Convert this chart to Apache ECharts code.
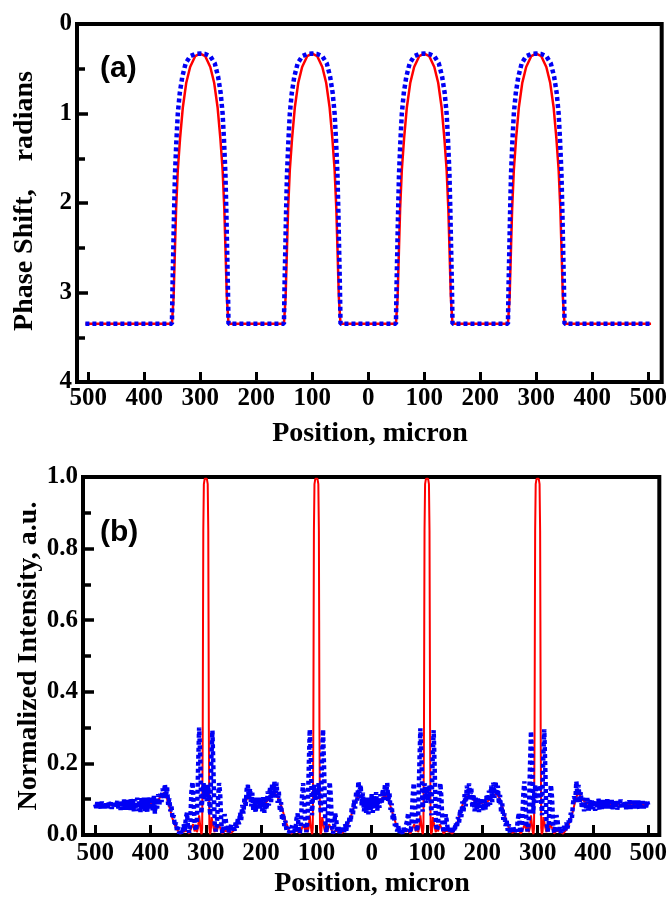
<!DOCTYPE html>
<html>
<head>
<meta charset="utf-8">
<script src="https://cdn.jsdelivr.net/npm/echarts@6/dist/echarts.min.js"></script>
<style>
html,body{margin:0;padding:0;background:#fff;}
#chart{width:670px;height:902px;}
</style>
</head>
<body>
<div id="chart"></div>
<script>
// ---------- tick labels ----------
const xTicks = [-500,-400,-300,-200,-100,0,100,200,300,400,500];

// ---------- (a) phase shift, [position (micron), phase (rad)] ----------
const phaseRed = [
[-505,3.35],
[-350.5,3.35],[-349.5,3.25],[-347.5,3.05],[-345,2.49],[-343,2.06],[-340,1.63],[-336,1.28],[-331,0.93],[-325,0.66],[-318,0.48],[-309,0.36],[-300,0.33],[-291,0.36],[-282,0.48],[-275,0.66],[-269,0.93],[-264,1.28],[-260,1.63],[-257,2.06],[-255,2.49],[-252.5,3.05],[-250.5,3.25],[-249.5,3.35],
[-150.5,3.35],[-149.5,3.25],[-147.5,3.05],[-145,2.49],[-143,2.06],[-140,1.63],[-136,1.28],[-131,0.93],[-125,0.66],[-118,0.48],[-109,0.36],[-100,0.33],[-91,0.36],[-82,0.48],[-75,0.66],[-69,0.93],[-64,1.28],[-60,1.63],[-57,2.06],[-55,2.49],[-52.5,3.05],[-50.5,3.25],[-49.5,3.35],
[49.5,3.35],[50.5,3.25],[52.5,3.05],[55,2.49],[57,2.06],[60,1.63],[64,1.28],[69,0.93],[75,0.66],[82,0.48],[91,0.36],[100,0.33],[109,0.36],[118,0.48],[125,0.66],[131,0.93],[136,1.28],[140,1.63],[143,2.06],[145,2.49],[147.5,3.05],[149.5,3.25],[150.5,3.35],
[249.5,3.35],[250.5,3.25],[252.5,3.05],[255,2.49],[257,2.06],[260,1.63],[264,1.28],[269,0.93],[275,0.66],[282,0.48],[291,0.36],[300,0.33],[309,0.36],[318,0.48],[325,0.66],[331,0.93],[336,1.28],[340,1.63],[343,2.06],[345,2.49],[347.5,3.05],[349.5,3.25],[350.5,3.35],
[505,3.35]
];
const phaseBlue = [
[-505,3.35],
[-350.5,3.35],[-349.5,2.95],[-348,2.50],[-346.5,2.05],[-345,1.67],[-342.5,1.30],[-340,1.00],[-336.5,0.77],[-332,0.59],[-326,0.44],[-318,0.36],[-309,0.335],[-300,0.33],[-291,0.335],[-282,0.36],[-274,0.44],[-268,0.59],[-263.5,0.77],[-260,1.00],[-257.5,1.30],[-255,1.67],[-253.5,2.05],[-252,2.50],[-250.5,2.95],[-249.5,3.35],
[-150.5,3.35],[-149.5,2.95],[-148,2.50],[-146.5,2.05],[-145,1.67],[-142.5,1.30],[-140,1.00],[-136.5,0.77],[-132,0.59],[-126,0.44],[-118,0.36],[-109,0.335],[-100,0.33],[-91,0.335],[-82,0.36],[-74,0.44],[-68,0.59],[-63.5,0.77],[-60,1.00],[-57.5,1.30],[-55,1.67],[-53.5,2.05],[-52,2.50],[-50.5,2.95],[-49.5,3.35],
[49.5,3.35],[50.5,2.95],[52,2.50],[53.5,2.05],[55,1.67],[57.5,1.30],[60,1.00],[63.5,0.77],[68,0.59],[74,0.44],[82,0.36],[91,0.335],[100,0.33],[109,0.335],[118,0.36],[126,0.44],[132,0.59],[136.5,0.77],[140,1.00],[142.5,1.30],[145,1.67],[146.5,2.05],[148,2.50],[149.5,2.95],[150.5,3.35],
[249.5,3.35],[250.5,2.95],[252,2.50],[253.5,2.05],[255,1.67],[257.5,1.30],[260,1.00],[263.5,0.77],[268,0.59],[274,0.44],[282,0.36],[291,0.335],[300,0.33],[309,0.335],[318,0.36],[326,0.44],[332,0.59],[336.5,0.77],[340,1.00],[342.5,1.30],[345,1.67],[346.5,2.05],[348,2.50],[349.5,2.95],[350.5,3.35],
[505,3.35]
];

// ---------- (b) normalized intensity ----------
const intensityX = [
-500,-498,-496,-494,-492,-490,-488,-486,-484,-482,
-480,-478,-476,-474,-472,-470,-468,-466,-464,-462,
-460,-458,-456,-454,-452,-450,-448,-446,-444,-442,
-440,-438,-436,-434,-432,-430,-428,-426,-424,-422,
-420,-418,-416,-414,-412,-410,-408,-406,-404,-402,
-400,-398,-396,-394,-392,-390,-388,-386,-384,-382,
-380,-378,-376,-374,-372,-370,-368,-366,-364,-362,
-360,-358,-356,-354,-352,-350,-348,-346,-344,-342,
-340,-338,-336,-334,-332,-330,-328,-326,-324,-322,
-320,-318,-316,-314,-312,-310,-308,-306,-304,-302,
-300,-298,-296,-294,-292,-290,-288,-286,-284,-282,
-280,-278,-276,-274,-272,-270,-268,-266,-264,-262,
-260,-258,-256,-254,-252,-250,-248,-246,-244,-242,
-240,-238,-236,-234,-232,-230,-228,-226,-224,-222,
-220,-218,-216,-214,-212,-210,-208,-206,-204,-202,
-200,-198,-196,-194,-192,-190,-188,-186,-184,-182,
-180,-178,-176,-174,-172,-170,-168,-166,-164,-162,
-160,-158,-156,-154,-152,-150,-148,-146,-144,-142,
-140,-138,-136,-134,-132,-130,-128,-126,-124,-122,
-120,-118,-116,-114,-112,-110,-108,-106,-104,-102,
-100,-98,-96,-94,-92,-90,-88,-86,-84,-82,
-80,-78,-76,-74,-72,-70,-68,-66,-64,-62,
-60,-58,-56,-54,-52,-50,-48,-46,-44,-42,
-40,-38,-36,-34,-32,-30,-28,-26,-24,-22,
-20,-18,-16,-14,-12,-10,-8,-6,-4,-2,
0,2,4,6,8,10,12,14,16,18,
20,22,24,26,28,30,32,34,36,38,
40,42,44,46,48,50,52,54,56,58,
60,62,64,66,68,70,72,74,76,78,
80,82,84,86,88,90,92,94,96,98,
100,102,104,106,108,110,112,114,116,118,
120,122,124,126,128,130,132,134,136,138,
140,142,144,146,148,150,152,154,156,158,
160,162,164,166,168,170,172,174,176,178,
180,182,184,186,188,190,192,194,196,198,
200,202,204,206,208,210,212,214,216,218,
220,222,224,226,228,230,232,234,236,238,
240,242,244,246,248,250,252,254,256,258,
260,262,264,266,268,270,272,274,276,278,
280,282,284,286,288,290,292,294,296,298,
300,302,304,306,308,310,312,314,316,318,
320,322,324,326,328,330,332,334,336,338,
340,342,344,346,348,350,352,354,356,358,
360,362,364,366,368,370,372,374,376,378,
380,382,384,386,388,390,392,394,396,398,
400,402,404,406,408,410,412,414,416,418,
420,422,424,426,428,430,432,434,436,438,
440,442,444,446,448,450,452,454,456,458,
460,462,464,466,468,470,472,474,476,478,
480,482,484,486,488,490,492,494,496,498,
500
];
const intensityBlue = [
.086,.076,.092,.078,.089,.074,.093,.079,.090,.075,
.088,.074,.093,.079,.091,.073,.090,.076,.094,.079,
.095,.074,.091,.070,.097,.077,.099,.071,.093,.068,
.098,.075,.101,.069,.096,.066,.100,.073,.104,.067,
.098,.064,.103,.072,.107,.066,.100,.061,.105,.070,
.090,.106,.068,.112,.060,.102,.074,.114,.082,.120,
.092,.130,.100,.142,.108,.134,.084,.102,.066,.080,
.045,.055,.025,.035,.010,.022,.004,.015,.002,.010,
.030,.012,.048,.062,.020,.006,.040,.120,.148,.090,
.030,.012,.040,.180,.300,.220,.060,.110,.145,.100,
.135,.095,.140,.105,.055,.210,.292,.170,.035,.010,
.028,.095,.145,.115,.035,.005,.022,.058,.045,.010,
.025,.008,.015,.030,.008,.025,.012,.035,.020,.045,
.030,.062,.042,.084,.060,.104,.080,.128,.140,.100,
.130,.080,.118,.068,.104,.062,.096,.070,.104,.074,
.100,.066,.106,.062,.098,.072,.122,.082,.134,.092,
.142,.104,.150,.114,.146,.090,.122,.066,.092,.042,
.060,.025,.040,.012,.022,.005,.015,.010,.025,.006,
.020,.010,.045,.060,.018,.004,.035,.110,.145,.095,
.025,.008,.045,.175,.295,.215,.055,.115,.140,.095,
.130,.100,.145,.110,.060,.205,.295,.180,.040,.008,
.030,.100,.148,.110,.030,.004,.025,.060,.040,.008,
.022,.005,.018,.006,.020,.008,.030,.012,.038,.022,
.052,.036,.078,.056,.098,.074,.122,.096,.150,.118,
.140,.082,.118,.066,.104,.062,.098,.058,.104,.070,
.114,.062,.108,.076,.120,.068,.104,.076,.114,.086,
.128,.098,.142,.112,.146,.094,.118,.070,.088,.042,
.060,.025,.035,.010,.025,.005,.018,.012,.004,.020,
.008,.028,.040,.062,.022,.006,.030,.105,.145,.100,
.030,.010,.050,.185,.298,.220,.065,.120,.145,.090,
.125,.095,.140,.115,.055,.200,.293,.175,.035,.012,
.032,.098,.145,.105,.028,.006,.028,.058,.035,.010,
.025,.004,.020,.008,.022,.010,.035,.020,.050,.035,
.072,.050,.094,.064,.114,.080,.138,.100,.144,.104,
.132,.076,.114,.066,.104,.070,.102,.064,.098,.076,
.104,.068,.098,.070,.114,.076,.124,.084,.138,.092,
.146,.104,.150,.110,.138,.086,.112,.062,.088,.042,
.060,.025,.040,.012,.030,.006,.020,.008,.025,.005,
.020,.010,.040,.062,.020,.005,.035,.110,.150,.095,
.028,.010,.045,.180,.290,.215,.060,.115,.140,.090,
.130,.100,.140,.105,.055,.205,.295,.175,.040,.010,
.030,.100,.140,.105,.030,.005,.025,.055,.040,.008,
.022,.006,.020,.010,.025,.012,.035,.018,.040,.030,
.062,.048,.088,.108,.092,.150,.112,.140,.090,.120,
.074,.104,.066,.102,.070,.106,.064,.098,.072,.096,
.072,.098,.068,.095,.075,.101,.070,.096,.073,.098,
.071,.094,.074,.100,.071,.095,.076,.098,.072,.094,
.074,.097,.071,.094,.077,.099,.073,.093,.075,.096,
.072,.093,.076,.097,.073,.094,.077,.096,.074,.093,
.076,.096,.073,.092,.078,.095,.074,.093,.077,.094,
.084
];
const intensityRed = [
[-500,.084],[-490,.083],[-480,.085],[-470,.084],[-460,.086],[-450,.084],[-440,.087],[-430,.085],[-420,.088],[-410,.086],[-400,.090],[-395,.086],[-390,.095],[-385,.100],[-380,.110],[-376,.118],[-372,.112],[-368,.090],[-364,.068],[-360,.045],[-356,.028],[-352,.015],
[-346,.004],[-340,.010],[-334,.012],[-330,.004],[-326,.020],[-323,.030],[-320,.010],[-318,.028],[-316,.008],[-314,.020],[-312,.055],[-310.5,.050],[-309,.010],[-307.5,.002],[-306.5,.020],[-305.5,.30],[-305,.60],[-304.5,.85],[-303.5,.98],[-302,.995],[-300,1],[-298,.995],[-296.5,.98],[-295.5,.85],[-295,.60],[-294.5,.30],[-293.5,.020],[-292.5,.002],[-291,.010],[-289.5,.050],[-288,.055],[-286,.020],[-284,.008],[-282,.028],[-280,.010],[-277,.030],[-274,.020],[-270,.004],[-266,.012],[-260,.010],[-254,.006],
[-250,.012],[-244,.025],[-238,.050],[-232,.075],[-226,.100],[-220,.105],[-214,.095],[-208,.088],[-200,.090],[-192,.090],[-186,.100],[-180,.110],[-174,.115],[-168,.100],[-162,.075],[-156,.040],[-150,.015],
[-146,.004],[-140,.010],[-134,.012],[-130,.004],[-126,.020],[-123,.030],[-120,.010],[-118,.028],[-116,.008],[-114,.020],[-112,.055],[-110.5,.050],[-109,.010],[-107.5,.002],[-106.5,.020],[-105.5,.30],[-105,.60],[-104.5,.85],[-103.5,.98],[-102,.995],[-100,1],[-98,.995],[-96.5,.98],[-95.5,.85],[-95,.60],[-94.5,.30],[-93.5,.020],[-92.5,.002],[-91,.010],[-89.5,.050],[-88,.055],[-86,.020],[-84,.008],[-82,.028],[-80,.010],[-77,.030],[-74,.020],[-70,.004],[-66,.012],[-60,.010],[-54,.006],
[-50,.010],[-44,.025],[-38,.050],[-32,.080],[-26,.105],[-20,.110],[-14,.095],[-8,.085],[0,.090],[8,.090],[14,.095],[20,.105],[26,.110],[32,.090],[38,.060],[44,.030],[50,.010],
[54,.006],[60,.010],[66,.012],[70,.004],[74,.020],[77,.030],[80,.010],[82,.028],[84,.008],[86,.020],[88,.055],[89.5,.050],[91,.010],[92.5,.002],[93.5,.020],[94.5,.30],[95,.60],[95.5,.85],[96.5,.98],[98,.995],[100,1],[102,.995],[103.5,.98],[104.5,.85],[105,.60],[105.5,.30],[106.5,.020],[107.5,.002],[109,.010],[110.5,.050],[112,.055],[114,.020],[116,.008],[118,.028],[120,.010],[123,.030],[126,.020],[130,.004],[134,.012],[140,.010],[146,.004],
[150,.015],[156,.040],[162,.075],[168,.100],[174,.110],[180,.105],[186,.095],[192,.088],[200,.090],[208,.092],[214,.100],[220,.110],[226,.115],[232,.100],[238,.070],[244,.035],[250,.012],
[254,.006],[260,.010],[266,.012],[270,.004],[274,.020],[277,.030],[280,.010],[282,.028],[284,.008],[286,.020],[288,.055],[289.5,.050],[291,.010],[292.5,.002],[293.5,.020],[294.5,.30],[295,.60],[295.5,.85],[296.5,.98],[298,.995],[300,1],[302,.995],[303.5,.98],[304.5,.85],[305,.60],[305.5,.30],[306.5,.020],[307.5,.002],[309,.010],[310.5,.050],[312,.055],[314,.020],[316,.008],[318,.028],[320,.010],[323,.030],[326,.020],[330,.004],[334,.012],[340,.010],[346,.004],
[352,.015],[356,.028],[360,.045],[364,.068],[368,.095],[372,.115],[376,.112],[380,.100],[386,.092],[392,.088],[400,.088],[410,.086],[420,.087],[430,.085],[440,.086],[450,.084],[460,.085],[470,.083],[480,.085],[490,.084],[500,.084]
];

const intensityBlueData = intensityX.map((x, i) => [x, intensityBlue[i]]);

const SERIF = '"Liberation Serif", "Times New Roman", serif';
const SANS = '"Liberation Sans", Arial, sans-serif';
const BLUE = '#0000f5';
const RED = '#ff0000';

function xAxisCfg(gridIndex, min, max, margin) {
  return {
    gridIndex, type: 'value', min, max,
    axisLine: { show: false, onZero: false },
    splitLine: { show: false },
    axisTick: { show: true, inside: true, length: 10, customValues: xTicks,
      lineStyle: { color: '#000', width: 3 } },
    axisLabel: { customValues: xTicks, formatter: v => String(Math.abs(v)),
      color: '#000', fontFamily: SERIF, fontWeight: 'bold', fontSize: 25, margin }
  };
}
function yAxisCfg(gridIndex, min, max, interval, inverse, fmt) {
  return {
    gridIndex, type: 'value', min, max, interval, inverse,
    axisLine: { show: false, onZero: false },
    splitLine: { show: false },
    axisTick: { show: true, inside: true, length: 11, lineStyle: { color: '#000', width: 3.5 } },
    minorTick: { show: true, splitNumber: 2, length: 8, lineStyle: { color: '#000', width: 3.5 } },
    axisLabel: { formatter: fmt, color: '#000', fontFamily: SERIF, fontWeight: 'bold', fontSize: 25, margin: 5 }
  };
}

const chart = echarts.init(document.getElementById('chart'), null, { renderer: 'canvas' });
chart.setOption({
  animation: false,
  backgroundColor: '#ffffff',
  grid: [
    { left: 77, top: 24, width: 586, height: 358, show: true, borderColor: '#000', borderWidth: 4, backgroundColor: 'rgba(0,0,0,0)' },
    { left: 83, top: 477, width: 579, height: 358, show: true, borderColor: '#000', borderWidth: 4, backgroundColor: 'rgba(0,0,0,0)' }
  ],
  xAxis: [
    xAxisCfg(0, -520, 524, 4),
    xAxisCfg(1, -522, 520, 6)
  ],
  yAxis: [
    yAxisCfg(0, 0, 4, 1, true, v => String(v)),
    yAxisCfg(1, 0, 1, 0.2, false, v => v.toFixed(1))
  ],
  series: [
    { type: 'line', xAxisIndex: 0, yAxisIndex: 0, data: phaseRed, showSymbol: false, z: 2,
      lineStyle: { color: RED, width: 2.5 } },
    { type: 'line', xAxisIndex: 0, yAxisIndex: 0, data: phaseBlue, showSymbol: false, z: 3,
      lineStyle: { color: BLUE, width: 4.5, type: [4, 3], cap: 'butt' } },
    { type: 'line', xAxisIndex: 1, yAxisIndex: 1, data: intensityRed, showSymbol: false, z: 2,
      lineStyle: { color: RED, width: 2 } },
    { type: 'line', xAxisIndex: 1, yAxisIndex: 1, data: intensityBlueData, showSymbol: false, z: 3,
      lineStyle: { color: BLUE, width: 4.5, type: [4, 3], cap: 'butt' } }
  ],
  graphic: [
    { type: 'text', x: 100, y: 69, style: { text: '(a)', font: 'bold 30px ' + SANS, fill: '#000', align: 'left', verticalAlign: 'middle' } },
    { type: 'text', x: 100, y: 533, style: { text: '(b)', font: 'bold 30px ' + SANS, fill: '#000', align: 'left', verticalAlign: 'middle' } },
    { type: 'text', x: 25, y: 201, rotation: Math.PI / 2, style: { text: 'Phase Shift,    radians', font: 'bold 28px ' + SERIF, fill: '#000', align: 'center', verticalAlign: 'middle' } },
    { type: 'text', x: 29, y: 656, rotation: Math.PI / 2, style: { text: 'Normalized Intensity, a.u.', font: 'bold 28px ' + SERIF, fill: '#000', align: 'center', verticalAlign: 'middle' } },
    { type: 'text', x: 370, y: 434, style: { text: 'Position, micron', font: 'bold 28px ' + SERIF, fill: '#000', align: 'center', verticalAlign: 'middle' } },
    { type: 'text', x: 372, y: 884, style: { text: 'Position, micron', font: 'bold 28px ' + SERIF, fill: '#000', align: 'center', verticalAlign: 'middle' } }
  ]
});
</script>
</body>
</html>
